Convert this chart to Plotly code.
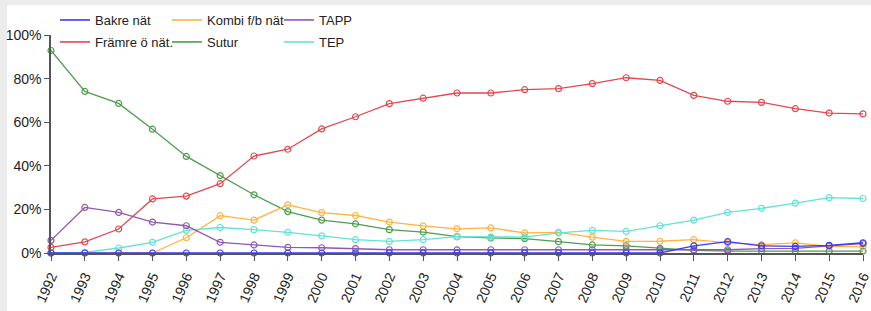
import plotly.graph_objects as go

years = list(range(1992, 2017))

bakre = [0, 0, 0, 0, 0, 0, 0, 0, 0, 0, 0, 0, 0, 0, 0, 0, 0, 0, 0, 3.3, 5.2, 3.3, 3.0, 3.5, 4.7]
framre = [2.6, 5.1, 11.0, 24.8, 26.1, 31.8, 44.5, 47.6, 56.9, 62.5, 68.5, 71.0, 73.4, 73.4, 74.9, 75.4, 77.7, 80.4, 79.2, 72.3, 69.6, 69.1, 66.2, 64.2, 63.8]
kombi = [0, 0, 0, 0, 7.0, 17.1, 15.1, 22.1, 18.5, 17.2, 14.2, 12.4, 11.1, 11.5, 9.2, 9.5, 7.3, 5.3, 5.4, 6.1, 4.6, 3.8, 4.6, 3.0, 2.8]
sutur = [92.9, 74.1, 68.6, 56.8, 44.3, 35.5, 26.7, 19.0, 15.1, 13.4, 10.7, 9.6, 7.5, 6.9, 6.6, 5.2, 3.7, 3.3, 2.1, 1.2, 0.9, 0.9, 0.9, 0.9, 0.9]
tapp = [5.8, 20.9, 18.6, 14.2, 12.5, 4.9, 3.7, 2.6, 2.4, 2.0, 1.5, 1.5, 1.4, 1.5, 1.5, 1.5, 1.5, 1.5, 1.5, 1.5, 1.5, 2.0, 2.1, 3.3, 4.3]
tep = [0, 0.3, 2.3, 4.9, 10.4, 11.7, 10.7, 9.5, 7.9, 6.1, 5.3, 6.1, 7.5, 7.3, 7.3, 9.2, 10.4, 9.9, 12.5, 15.1, 18.6, 20.5, 22.9, 25.4, 25.0]

y_ticks = [0, 20, 40, 60, 80, 100]
y_labels = [f"{v}%" for v in y_ticks]

series = [
    ("Bakre nät", bakre, "#3b3bf0", "legend", 1),
    ("Främre ö nät.", framre, "#e04a4f", "legend2", 1),
    ("Kombi f/b nät", kombi, "#ffb340", "legend", 2),
    ("Sutur", sutur, "#4f9e4f", "legend2", 2),
    ("TAPP", tapp, "#9157b5", "legend", 3),
    ("TEP", tep, "#62e3d3", "legend2", 3),
]

FONT = "Liberation Sans, Arial, sans-serif"

fig = go.Figure()
draw_order = ["Sutur", "Främre ö nät.", "Kombi f/b nät", "TEP", "TAPP", "Bakre nät"]
lookup = {s[0]: s for s in series}
for name in draw_order:
    _, vals, col, lg, rk = lookup[name]
    fig.add_trace(go.Scatter(
        x=years, y=vals, mode="lines+markers", name=name, showlegend=False,
        line=dict(color=col, width=1.3),
        marker=dict(symbol="circle-open", size=6, color=col, line=dict(width=1.2)),
        cliponaxis=False,
    ))
for name, vals, col, lg, rk in series:
    fig.add_trace(go.Scatter(
        x=[None], y=[None], mode="lines", name=name, legend=lg, legendrank=rk,
        line=dict(color=col, width=1.6),
    ))

legend_style = dict(
    orientation="h", xref="container", yref="container", x=55 / 871, xanchor="left",
    yanchor="middle", font=dict(family=FONT, size=13, color="#222"),
    entrywidth=67, entrywidthmode="pixels", bgcolor="rgba(0,0,0,0)", itemwidth=30,
    tracegroupgap=0,
)

fig.update_layout(
    width=871, height=311,
    margin=dict(l=51, r=8, t=35, b=58, autoexpand=False),
    paper_bgcolor="white", plot_bgcolor="white",
    font=dict(family=FONT, size=14, color="#333"),
    legend=dict(**legend_style, y=1 - 20 / 311),
    legend2=dict(**legend_style, y=1 - 42 / 311),
    xaxis=dict(
        range=[1992, 2016], tickmode="array", tickvals=years, ticktext=[str(y) for y in years],
        tickangle=-66, showgrid=False, zeroline=False, showline=True, linecolor="#555",
        linewidth=1.5, ticks="outside", ticklen=6, tickcolor="#555", automargin=False,
        ticklabeloverflow="allow", ticklabelstandoff=2, tickfont=dict(family=FONT, size=14, color="#222"),
    ),
    yaxis=dict(
        range=[0, 100], tickmode="array", tickvals=y_ticks, ticktext=y_labels,
        showgrid=False, zeroline=False, showline=True, linecolor="#555", linewidth=1.5,
        ticks="outside", ticklen=5, tickcolor="#555", automargin=False,
        tickfont=dict(family=FONT, size=14, color="#222"),
    ),
    shapes=[
        dict(type="rect", xref="paper", yref="paper", x0=-0.1, x1=1.1,
             y0=1 + 30 / 218.3, y1=1.3, fillcolor="#ececec", line=dict(width=0), layer="below"),
        dict(type="rect", xref="paper", yref="paper", x0=-0.1, x1=-44 / 812,
             y0=-0.4, y1=1.3, fillcolor="#ececec", line=dict(width=0), layer="below"),
    ],
)

fig.write_html("out.html", config={"displayModeBar": False},
               post_script="document.body.style.margin='0';")
